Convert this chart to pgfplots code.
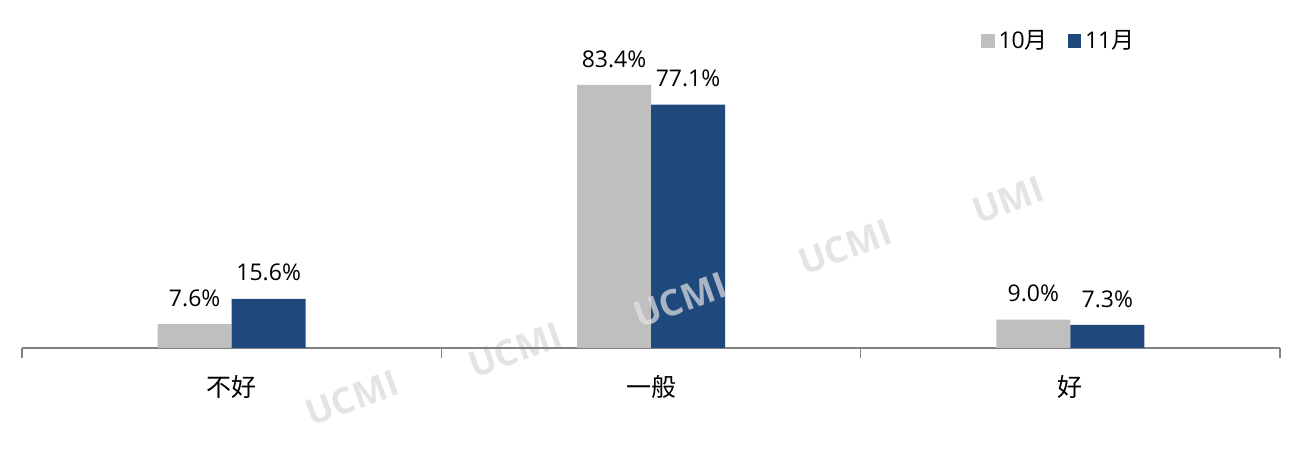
\documentclass[border=0pt]{standalone}
\usepackage{pgfplots}
\pgfplotsset{compat=1.18}
\usepackage{fontspec}
\setmainfont{Open Sans}
\newfontfamily\cjk{Noto Sans CJK SC}
\definecolor{cgray}{HTML}{BFBFBF}
\definecolor{cblue}{HTML}{1F497D}
\definecolor{wm}{HTML}{E4E4E4}
\begin{document}
\begin{tikzpicture}
\useasboundingbox (-11pt,-60.5pt) rectangle (641pt,174pt);
\begin{scope}[every node/.style={text=wm, rotate=20, font=\bfseries\fontsize{18}{20}\selectfont}]
\node at (165pt,-25pt) {UCMI};
\node at (246.5pt,-1pt) {UCMI};
\node at (411.5pt,50.5pt) {UCMI};
\node at (493pt,74pt) {UMI};
\end{scope}
\begin{axis}[
  at={(0pt,0pt)}, anchor=south west,
  scale only axis, width=629pt, height=157.75pt,
  ybar=0pt, bar width=37pt,
  xmin=-0.5, xmax=2.5, ymin=0, ymax=100,
  axis y line=none,
  axis x line*=bottom,
  x axis line style={gray, line width=0.6pt, -},
  xtick={0,1,2},
  xticklabels={{\cjk 不好},{\cjk 一般},{\cjk 好}},
  major tick length=0pt,
  minor xtick={-0.5,0.5,1.5,2.5},
  minor tick length=5pt,
  xtick align=outside,
  minor tick style={gray, line width=0.6pt},
  xticklabel style={font=\fontsize{12.5}{14}\selectfont, yshift=-10pt},
  /pgf/number format/assume math mode=true,
  nodes near coords={\pgfmathprintnumber[fixed,fixed zerofill,precision=1,assume math mode=true]{\pgfplotspointmeta}\%},
  every node near coord/.append style={font=\fontsize{11.5}{13}\selectfont, anchor=center, yshift=13pt, text=black},
  legend style={draw=none, fill=none, at={(0.825,0.973)}, anchor=center, legend columns=2,
    font=\fontsize{11.5}{13}\selectfont, /tikz/every even column/.append style={column sep=8pt}},
  legend image code/.code={\fill (0pt,-3.3pt) rectangle (6.6pt,3.3pt);},
]
\addplot[fill=cgray, draw=none] coordinates {(0,7.6) (1,83.4) (2,9.0)};
\addplot[fill=cblue, draw=none] coordinates {(0,15.6) (1,77.1) (2,7.3)};
\legend{10{\cjk 月},11{\cjk 月}}
\end{axis}
\node[text=wm, opacity=0.7, rotate=20, font=\bfseries\fontsize{18}{20}\selectfont] at (329pt,24pt) {UCMI};
\end{tikzpicture}
\end{document}
